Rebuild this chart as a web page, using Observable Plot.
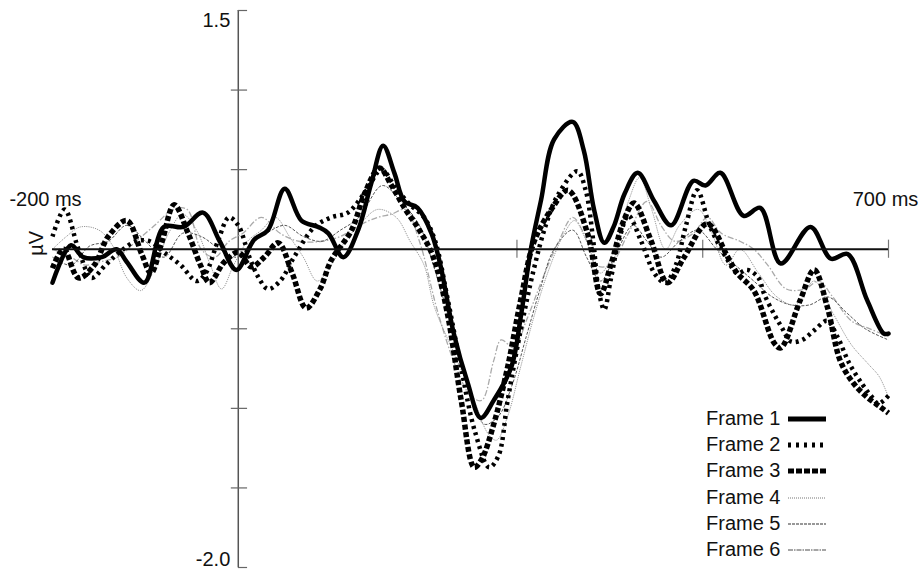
<!DOCTYPE html>
<html><head><meta charset="utf-8">
<script src="https://cdn.jsdelivr.net/npm/d3@7"></script>
<script src="https://cdn.jsdelivr.net/npm/@observablehq/plot@0.6"></script>
<style>
body{margin:0;background:#fff;}
#wrap{position:relative;width:920px;height:570px;font-family:"Liberation Sans",Arial,sans-serif;}
#legend{position:absolute;left:0;top:0;}
.lt{position:absolute;font-size:20px;color:#111;line-height:26px;height:26px;white-space:nowrap;}
.ls{position:absolute;}
</style></head><body><div id="wrap"><div id="chart"></div><div id="legend"></div></div>
<script>
// ---- data (time in ms, amplitude in µV) ----
const frameNames = ["Frame 1","Frame 2","Frame 3","Frame 4","Frame 5","Frame 6"];
const xLabels = ["-200 ms","700 ms"];
const yTickLabels = ["1.5","-2.0"];
const yTicks = [1.0, 0.5, -0.5, -1.0, -1.5];
const yEndTicks = [1.5, -2.0];
const xTicks = [300, 500, 700];

const frame1 = [[-200,-0.21],[-180,0.025],[-167,-0.05],[-147,-0.05],[-131,0.0],[-120,-0.08],[-101,-0.21],[-80,0.14],[-59,0.14],[-38,0.23],[-20,0.05],[-2,-0.13],[17,0.06],[32,0.12],[50,0.38],[68,0.18],[86,0.14],[97,0.1],[113,-0.05],[129,0.12],[143,0.41],[156,0.65],[168,0.48],[179,0.30],[193,0.26],[208,0.1],[218,-0.11],[232,-0.53],[247,-0.84],[261,-1.06],[275,-0.95],[294,-0.74],[304,-0.43],[315,0],[326,0.31],[340,0.69],[360,0.80],[372,0.62],[383,0.25],[394,0.04],[404,0.14],[416,0.35],[430,0.48],[448,0.3],[466,0.15],[490,0.43],[503,0.40],[519,0.48],[544,0.21],[562,0.26],[584,-0.09],[616,0.14],[638,-0.06],[656,-0.03],[677,-0.32],[695,-0.53],[700,-0.53]];

const frame2 = [[-200,0.08],[-187,0.25],[-172,0.0],[-158,-0.18],[-143,-0.1],[-128,-0.02],[-110,0.05],[-95,0.05],[-80,-0.02],[-62,-0.1],[-45,-0.2],[-35,-0.15],[-22,0.05],[-10,0.2],[0,0.15],[12,-0.05],[22,-0.18],[32,-0.25],[45,-0.2],[60,-0.05],[82,0.14],[100,0.2],[118,0.23],[138,0.37],[154,0.5],[170,0.38],[185,0.28],[200,0.2],[212,0.05],[225,-0.3],[240,-0.75],[255,-1.15],[270,-1.37],[280,-1.3],[290,-0.95],[304,-0.51],[318,-0.13],[331,0.15],[344,0.34],[365,0.49],[374,0.37],[382,0.06],[388,-0.26],[394,-0.38],[401,-0.19],[410,0.06],[420,0.21],[433,0.06],[449,-0.16],[460,-0.21],[471,-0.1],[482,0.15],[494,0.37],[508,0.14],[527,-0.07],[537,-0.15],[548,-0.13],[560,-0.18],[566,-0.28],[577,-0.41],[585,-0.49],[595,-0.58],[607,-0.57],[620,-0.51],[634,-0.45],[645,-0.55],[658,-0.72],[672,-0.85],[681,-0.92],[689,-0.97],[695,-0.95],[700,-0.92]];

const frame3 = [[-200,-0.12],[-188,0.0],[-172,-0.18],[-155,-0.1],[-140,0.08],[-120,0.18],[-104,-0.03],[-94,-0.15],[-82,0.05],[-69,0.28],[-54,0.1],[-40,-0.11],[-31,-0.21],[-15,-0.08],[0,-0.02],[14,-0.11],[28,-0.05],[43,0.04],[58,-0.15],[73,-0.37],[88,-0.25],[100,-0.07],[122,0.12],[136,0.35],[152,0.51],[165,0.4],[180,0.25],[195,0.12],[210,-0.05],[225,-0.4],[240,-0.95],[254,-1.37],[262,-1.32],[275,-1.1],[290,-0.74],[304,-0.32],[318,0.04],[337,0.25],[355,0.37],[376,0.1],[390,-0.28],[401,-0.1],[415,0.18],[426,0.29],[444,0.06],[462,-0.21],[480,-0.05],[505,0.16],[527,-0.05],[537,-0.15],[555,-0.26],[577,-0.59],[584,-0.62],[605,-0.32],[620,-0.13],[634,-0.36],[648,-0.70],[662,-0.84],[677,-0.93],[691,-0.99],[700,-1.03]];

const frame4 = [[-200,0.0],[-185,0.08],[-170,0.14],[-150,0.12],[-135,0.02],[-120,-0.18],[-105,-0.26],[-90,-0.12],[-75,0.1],[-60,0.22],[-45,0.12],[-30,-0.1],[-18,-0.25],[-5,-0.1],[10,0.05],[25,0.12],[40,0.2],[55,0.08],[70,-0.05],[85,-0.2],[100,-0.1],[115,0.05],[130,0.15],[150,0.25],[170,0.2],[185,0.05],[200,-0.1],[211,-0.36],[232,-0.65],[254,-0.95],[269,-1.16],[278,-1.2],[290,-1.05],[304,-0.74],[318,-0.43],[333,-0.15],[351,0.1],[362,0.18],[375,0.05],[390,-0.15],[405,0.0],[420,0.3],[432,0.45],[445,0.25],[460,0.0],[475,0.15],[495,0.25],[510,0.1],[525,-0.1],[540,0.0],[560,-0.15],[580,-0.3],[600,-0.35],[620,-0.2],[640,-0.4],[660,-0.6],[678,-0.72],[690,-0.8],[700,-0.93]];

const frame5 = [[-200,-0.05],[-180,-0.1],[-160,0.02],[-140,0.05],[-120,0.15],[-100,0.05],[-80,-0.05],[-60,0.1],[-40,0.08],[-20,0.0],[0,-0.05],[15,0.05],[30,0.1],[50,0.15],[70,0.08],[90,0.05],[110,0.12],[130,0.2],[155,0.4],[175,0.3],[195,0.15],[210,-0.1],[230,-0.5],[250,-0.9],[265,-1.1],[280,-1.05],[295,-0.85],[310,-0.55],[325,-0.25],[340,0.0],[360,0.12],[375,-0.05],[390,-0.2],[405,-0.05],[425,0.15],[440,0.05],[455,-0.05],[475,0.05],[495,0.12],[515,0.0],[535,-0.1],[555,-0.2],[575,-0.3],[595,-0.35],[615,-0.35],[635,-0.3],[655,-0.4],[675,-0.5],[700,-0.57]];

const frame6 = [[-200,0.0],[-180,-0.05],[-165,-0.1],[-150,-0.08],[-130,-0.05],[-110,0.05],[-90,0.15],[-70,0.25],[-55,0.25],[-40,0.0],[-25,-0.05],[-10,0.05],[5,0.1],[25,0.2],[45,0.1],[65,0.05],[90,0.05],[110,0.08],[130,0.15],[150,0.2],[165,0.22],[180,0.25],[195,0.05],[215,-0.4],[235,-0.75],[250,-0.92],[262,-0.95],[275,-0.7],[283,-0.57],[297,-0.62],[310,-0.45],[330,-0.15],[345,0.05],[360,0.2],[372,0.1],[385,-0.1],[400,-0.1],[420,0.1],[440,0.3],[455,0.15],[470,0.05],[490,0.1],[505,0.2],[520,0.1],[540,0.05],[555,0.0],[570,-0.1],[590,-0.25],[610,-0.25],[625,-0.2],[640,-0.3],[660,-0.45],[680,-0.5],[700,-0.55]];

const frames = [frame1, frame2, frame3, frame4, frame5, frame6];

// ---- styles ----
const lineStyles = [
  {stroke:"#000", strokeWidth:4.5, strokeLinecap:"round"},
  {stroke:"#000", strokeWidth:4.5, strokeDasharray:"3,4", strokeLinecap:"butt"},
  {stroke:"#000", strokeWidth:5.5, strokeDasharray:"5,2.5", strokeLinecap:"butt"},
  {stroke:"#999", strokeWidth:1, strokeDasharray:"1.2,1", strokeLinecap:"butt"},
  {stroke:"#555", strokeWidth:1, strokeDasharray:"3,1.5", strokeLinecap:"butt"},
  {stroke:"#aaa", strokeWidth:1.3, strokeDasharray:"6,2,1.5,2", strokeLinecap:"butt"}
];
const swatchStyles = [
  {stroke:"#000", width:5, dash:null},
  {stroke:"#000", width:5, dash:"3,5"},
  {stroke:"#000", width:5, dash:"6,2"},
  {stroke:"#777", width:1, dash:"1,1"},
  {stroke:"#333", width:1.2, dash:"3,1"},
  {stroke:"#888", width:1.5, dash:"5,1,1.5,1"}
];

const font = "'Liberation Sans', Arial, sans-serif";
const lineMarks = frames.map((f, i) => ({f, i})).reverse().map(({f, i}) =>
  Plot.line(f, {x: d => d[0], y: d => d[1], curve: "catmull-rom", fill: "none",
    strokeLinejoin: "round", ...lineStyles[i]}));

const chart = Plot.plot({
  width: 920, height: 570,
  marginLeft: 52, marginRight: 32, marginTop: 10, marginBottom: 3,
  x: {domain: [-200, 700], axis: null},
  y: {domain: [-2, 1.5], axis: null},
  style: {background: "white", fontFamily: font, fontSize: "20px", color: "#111"},
  marks: [
    Plot.ruleX([0], {y1: -2, y2: 1.5, stroke: "#555", strokeWidth: 1.5}),
    Plot.ruleY(yTicks, {y: d => d, x1: -7.5, x2: 10, stroke: "#666", strokeWidth: 1.2}),
    Plot.ruleY(yEndTicks, {y: d => d, x1: 0, x2: 10, stroke: "#666", strokeWidth: 1.2}),
    Plot.ruleX(xTicks, {x: d => d, y1: -0.057, y2: 0.057, stroke: "#777", strokeWidth: 1.2}),
    ...lineMarks,
    Plot.ruleY([0], {x1: -200, x2: 700, stroke: "#111", strokeWidth: 2}),
    Plot.text([yTickLabels[0]], {x: 0, y: yEndTicks[0], text: d => d, textAnchor: "end", dx: -8, dy: 10, fill: "#111", fontSize: 20}),
    Plot.text([yTickLabels[1]], {x: 0, y: yEndTicks[1], text: d => d, textAnchor: "end", dx: -8, dy: -8, fill: "#111", fontSize: 20}),
    Plot.text([xLabels[0]], {x: -200, y: 0, text: d => d, dx: -7, dy: -50, fill: "#111", fontSize: 20}),
    Plot.text([xLabels[1]], {x: 700, y: 0, text: d => d, dx: -3, dy: -50, fill: "#111", fontSize: 20}),
    Plot.text(["µV"], {x: -200, y: 0, text: d => d, rotate: -90, dx: -16, dy: -6, fill: "#111", fontSize: 20})
  ]
});
document.getElementById("chart").appendChild(chart);

// ---- legend overlay ----
const legend = document.getElementById("legend");
frameNames.forEach((name, i) => {
  const cy = 418 + 26.2 * i;
  const t = document.createElement("div");
  t.className = "lt";
  t.style.left = "706px";
  t.style.top = (cy - 13) + "px";
  t.textContent = name;
  legend.appendChild(t);
  const s = swatchStyles[i];
  const svg = d3.create("svg").attr("class", "ls").attr("width", 40).attr("height", 10)
    .style("left", "788px").style("top", (cy - 4) + "px");
  svg.append("line").attr("x1", 0).attr("x2", 38).attr("y1", 5).attr("y2", 5)
    .attr("stroke", s.stroke).attr("stroke-width", s.width)
    .attr("stroke-dasharray", s.dash);
  legend.appendChild(svg.node());
});
</script>
</body></html>
